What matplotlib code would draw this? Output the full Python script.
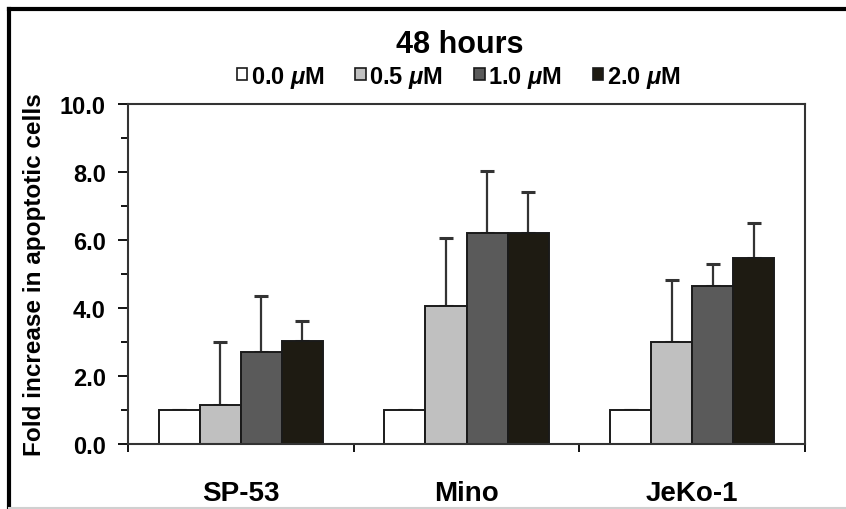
import numpy as np
import matplotlib.pyplot as plt
from matplotlib.patches import Patch
from matplotlib.lines import Line2D

plt.rcParams['font.family'] = ['Liberation Sans', 'DejaVu Sans']
plt.rcParams['font.weight'] = 'bold'
plt.rcParams['axes.labelweight'] = 'bold'
plt.rcParams['mathtext.fontset'] = 'custom'
plt.rcParams['mathtext.it'] = 'Liberation Sans:italic:bold'
plt.rcParams['mathtext.rm'] = 'Liberation Sans:bold'

# data
cell_lines = ['SP-53', 'Mino', 'JeKo-1']
doses = ['0.0 $\\mu$M', '0.5 $\\mu$M', '1.0 $\\mu$M', '2.0 $\\mu$M']
dose_00 = [1.0, 1.0, 1.0]
dose_05 = [1.15, 4.05, 3.0]
dose_10 = [2.7, 6.2, 4.65]
dose_20 = [3.03, 6.2, 5.47]
err_00 = [0.0, 0.0, 0.0]
err_05 = [1.85, 2.02, 1.83]
err_10 = [1.66, 1.82, 0.64]
err_20 = [0.58, 1.2, 1.03]

values = [dose_00, dose_05, dose_10, dose_20]
errors = [err_00, err_05, err_10, err_20]
colors = ['#ffffff', '#c0c0c0', '#5a5a5a', '#1e1b12']

fig = plt.figure(figsize=(8.46, 5.10), dpi=100)
ax = fig.add_axes([128/846, 65/510, 677/846, 340/510])

x = np.arange(len(cell_lines))
w = 0.182
for i in range(4):
    pos = x + (i - 1.5) * w
    ax.bar(pos, values[i], w, color=colors[i], edgecolor='#1a1a1a', linewidth=1.4, zorder=2)
    lower = np.zeros(len(cell_lines))
    ax.errorbar(pos, values[i], yerr=[lower, errors[i]], fmt='none', ecolor='#333333',
                elinewidth=1.6, capsize=5, capthick=2.2, zorder=1)

ax.set_xlim(-0.5, 2.5)
ax.set_ylim(0, 10)
ax.set_yticks(np.arange(0, 10.1, 2))
ax.set_yticklabels(['%.1f' % v for v in np.arange(0, 10.1, 2)])
ax.set_yticks(np.arange(1, 10, 2), minor=True)
ax.tick_params(axis='y', which='major', direction='out', length=7, width=1.3, labelsize=17, pad=9)
ax.tick_params(axis='y', which='minor', direction='out', length=5, width=1.3)

ax.set_xticks([-0.5, 0.5, 1.5, 2.5])
ax.set_xticklabels([])
ax.set_xticks(x, minor=True)
ax.set_xticklabels(cell_lines, minor=True)
ax.tick_params(axis='x', which='major', direction='out', length=6, width=1.3)
ax.tick_params(axis='x', which='minor', length=0, labelsize=20, pad=26)

for s in ax.spines.values():
    s.set_linewidth(1.5)
    s.set_color('#333333')

ax.set_ylabel('Fold increase in apoptotic cells', fontsize=17.5, fontweight='bold', labelpad=10)

fig.text(0.543, 0.912, '48 hours', ha='center', va='center', fontsize=22)

handles = [Patch(facecolor=c, edgecolor='#1a1a1a', linewidth=1.2) for c in colors]
fig.legend(handles, doses, loc='center', bbox_to_anchor=(0.542, 0.848), ncol=4, frameon=False,
           fontsize=17, handlelength=0.45, handleheight=0.45, handletextpad=0.15,
           columnspacing=1.3, borderpad=0)

# outer frame of the figure
fig.add_artist(Line2D([9/846, 9/846], [0, 1 - 10/510], transform=fig.transFigure, color='black', linewidth=3))
fig.add_artist(Line2D([9/846, 1], [1 - 10/510, 1 - 10/510], transform=fig.transFigure, color='black', linewidth=3))
fig.add_artist(Line2D([9/846, 1], [1/510, 1/510], transform=fig.transFigure, color='#d0d0d0', linewidth=1.5))

fig.savefig('out.png', dpi=100)
